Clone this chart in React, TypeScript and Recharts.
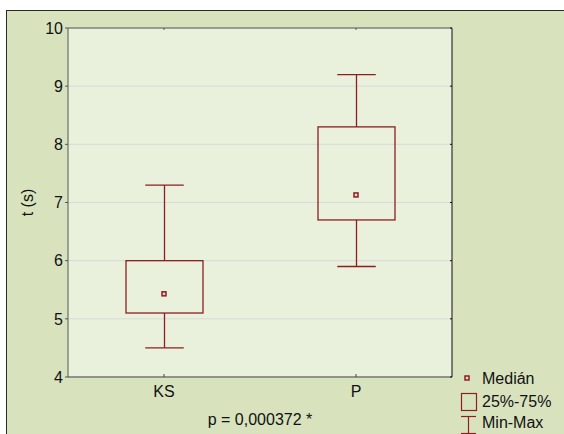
import {
  Bar,
  CartesianGrid,
  ComposedChart,
  Label,
  Legend,
  Scatter,
  XAxis,
  YAxis,
} from 'recharts'

const categories = ['KS', 'P']
const minValues = [4.5, 5.9]
const q1Values = [5.1, 6.7]
const medianValues = [5.43, 7.13]
const q3Values = [6.0, 8.3]
const maxValues = [7.3, 9.2]
const yTicks = [4, 5, 6, 7, 8, 9, 10]
const pValueText = 'p = 0,000372 *'

const data = categories.map((name, i) => ({
  name,
  min: minValues[i],
  q1: q1Values[i],
  median: medianValues[i],
  q3: q3Values[i],
  max: maxValues[i],
  range: [minValues[i], maxValues[i]],
}))

const RED = '#8c1f1f'
const FONT = '"Liberation Sans", Arial, sans-serif'

// box + whiskers drawn from the min..max range bar
function BoxShape(props: any) {
  const { x, y, width, height, payload } = props
  if (!payload) return null
  const top = Math.min(y, y + height)
  const h = Math.abs(height)
  const { min, max, q1, q3 } = payload
  const pix = (v: number) => top + ((max - v) / (max - min)) * h
  const cx = x + width / 2
  const capHalf = width / 4
  const yMax = pix(max)
  const yMin = pix(min)
  const yQ1 = pix(q1)
  const yQ3 = pix(q3)
  return (
    <g stroke={RED} strokeWidth={1.3} fill="none">
      <line x1={cx - capHalf} x2={cx + capHalf} y1={yMax} y2={yMax} />
      <line x1={cx} x2={cx} y1={yMax} y2={yQ3} />
      <rect x={x} y={yQ3} width={width} height={yQ1 - yQ3} />
      <line x1={cx} x2={cx} y1={yQ1} y2={yMin} />
      <line x1={cx - capHalf} x2={cx + capHalf} y1={yMin} y2={yMin} />
    </g>
  )
}

function MedianDot(props: any) {
  const { cx, cy } = props
  return (
    <rect x={cx - 2} y={cy - 2} width={4} height={4} fill="#f2d4d4" stroke={RED} strokeWidth={1.5} />
  )
}

const Nothing = () => <g />

function LegendBox() {
  const text = { fontSize: 16, fill: '#111', fontFamily: FONT }
  return (
    <svg width={100} height={70}>
      <rect x={8} y={8} width={4} height={4} fill="#f2d4d4" stroke={RED} strokeWidth={1.5} />
      <text x={25} y={16} {...text}>Medián</text>
      <rect x={4.5} y={25.5} width={15} height={17} fill="none" stroke={RED} strokeWidth={1.2} />
      <text x={25} y={39} {...text}>25%-75%</text>
      <g stroke={RED} strokeWidth={1.2}>
        <line x1={4} x2={19} y1={48.5} y2={48.5} />
        <line x1={11.5} x2={11.5} y1={48.5} y2={65.5} />
        <line x1={4} x2={19} y1={65.5} y2={65.5} />
      </g>
      <text x={25} y={60} {...text}>Min-Max</text>
    </svg>
  )
}

export default function App() {
  return (
    <div style={{ position: 'absolute', left: 0, top: 0, width: 564, height: 434, background: '#fff', overflow: 'hidden' }}>
      <div
        style={{
          position: 'absolute',
          left: 6,
          top: 10,
          width: 570,
          height: 440,
          background: '#d8e3be',
          borderLeft: '1px solid #2a2a2a',
          borderTop: '1px solid #2a2a2a',
        }}
      />
      <div style={{ position: 'absolute', left: 0, top: 0 }}>
        <ComposedChart
          width={564}
          height={434}
          data={data}
          margin={{ top: 27, right: 111, bottom: 0, left: 0 }}
          style={{ fontFamily: FONT }}
        >
          <CartesianGrid horizontal vertical={false} stroke="#d9d9d9" fill="#e9f0dc" />
          <XAxis
            dataKey="name"
            height={57}
            axisLine={{ stroke: '#444' }}
            tickLine={{ stroke: '#444' }}
            tickSize={-3}
            tickMargin={12}
            tick={{ fill: '#111', fontSize: 16 }}
          >
            <Label value={pValueText} position="insideBottom" offset={9} fill="#111" fontSize={16} />
          </XAxis>
          <XAxis
            xAxisId="top"
            dataKey="name"
            orientation="top"
            height={1}
            axisLine={{ stroke: '#555' }}
            tickLine={{ stroke: '#555' }}
            tickSize={-2}
            tickFormatter={() => ''}
          />
          <YAxis
            domain={[4, 10]}
            ticks={yTicks}
            allowDataOverflow
            width={68}
            axisLine={{ stroke: '#555' }}
            tickLine={{ stroke: '#555' }}
            tickSize={3}
            tickMargin={2}
            tick={{ fill: '#111', fontSize: 16 }}
          >
            <Label
              content={({ viewBox }: any) => (
                <text
                  x={27}
                  y={viewBox.y + viewBox.height / 2}
                  transform={`rotate(-90 27 ${viewBox.y + viewBox.height / 2})`}
                  textAnchor="middle"
                  dominantBaseline="central"
                  fill="#111"
                  fontSize={16}
                  fontFamily={FONT}
                >
                  t (s)
                </text>
              )}
            />
          </YAxis>
          <YAxis
            yAxisId="r"
            orientation="right"
            domain={[4, 10]}
            ticks={yTicks}
            allowDataOverflow
            width={1}
            axisLine={{ stroke: '#111' }}
            tickLine={{ stroke: '#111' }}
            tickSize={-2}
            tickFormatter={() => ''}
          />
          <Bar dataKey="range" barSize={77} shape={<BoxShape />} isAnimationActive={false} />
          <Scatter dataKey="median" shape={<MedianDot />} isAnimationActive={false} />
          {/* invisible series so the frame axes (top / right) are drawn */}
          <Scatter
            dataKey="median"
            xAxisId="top"
            yAxisId="r"
            shape={<Nothing />}
            legendType="none"
            isAnimationActive={false}
          />
          <Legend
            layout="horizontal"
            verticalAlign="middle"
            align="center"
            wrapperStyle={{ position: 'absolute', left: 457, top: 368, width: 100, height: 70 }}
            content={() => <LegendBox />}
          />
        </ComposedChart>
      </div>
    </div>
  )
}
